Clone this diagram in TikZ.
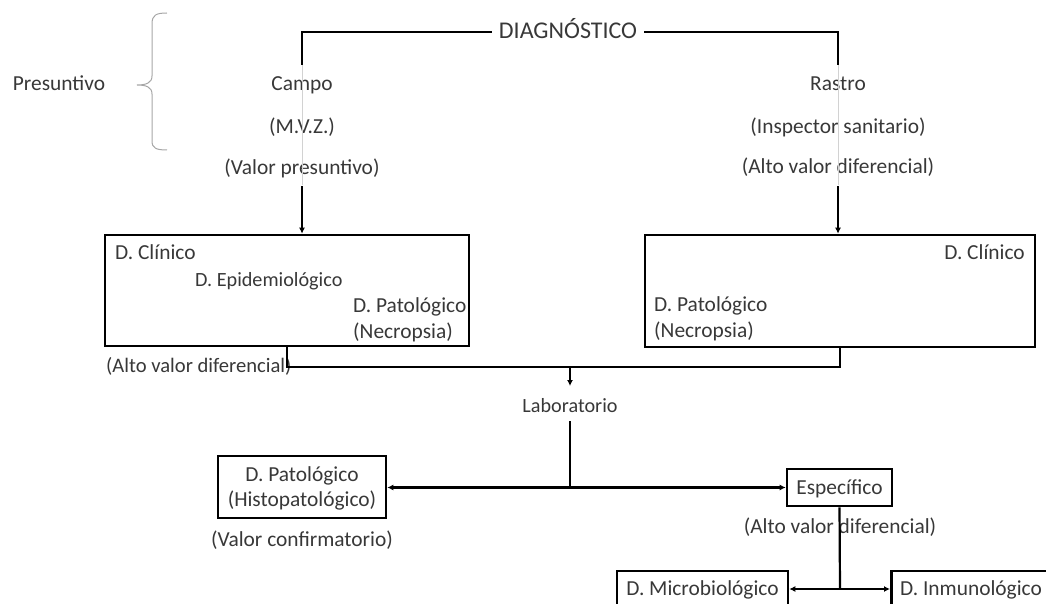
\documentclass[tikz,border=0pt]{standalone}
\usepackage{fontspec}
\setmainfont{Carlito}
\usetikzlibrary{arrows.meta,calc}
\definecolor{txt}{HTML}{383838}
\begin{document}
\begin{tikzpicture}[x=1pt,y=-1pt,
  every node/.style={text=txt,font=\fontsize{21.4}{25}\selectfont,inner sep=0pt,text height=15pt,text depth=3pt},
  small/.style={font=\fontsize{20.2}{24}\selectfont},
  conn/.style={line width=2.2pt,black},
  arr/.style={conn,-{Latex[length=6pt,width=6pt]}},
  boxn/.style={draw=black,line width=2.6pt,inner sep=0pt,text height=,text depth=}]
\useasboundingbox (0,0) rectangle (1046,604);
\clip (0,0) rectangle (1046,604);
% top
\node[font=\fontsize{24}{28}\selectfont,text height=17pt,text depth=3pt] (diag) at (568,32) {DIAGNÓSTICO};
\node (pres) at (59,85) {Presuntivo};
\node (campo) at (302,85) {Campo};
\node (mvz) at (302,128) {(M.V.Z.)};
\node (valp) at (302,169) {(Valor presuntivo)};
\node (rastro) at (838,85) {Rastro};
\node (insp) at (838,128) {(Inspector sanitario)};
\node (altod1) at (838,168) {(Alto valor diferencial)};
\coordinate (lt) at (302,65);
\coordinate (rt) at (838,65);
\draw[conn] ([xshift=-7pt]diag.west) -| (lt);
\draw[conn] ([xshift=7pt]diag.east) -| (rt);
\draw[gray!35,line width=0.6pt] (lt) -- (302,185);
\draw[gray!35,line width=0.6pt] (rt) -- (838,185);
% brace
\draw[gray!70,line width=1pt] (167,13) .. controls (156,13) and (152,15) .. (152,24)
  -- (152,76) .. controls (152,83) and (146,85) .. (137,85)
  .. controls (146,85) and (152,87) .. (152,94)
  -- (152,141) .. controls (152,148) and (156,150) .. (167,150);
% boxes
\node[boxn,minimum width=364pt,minimum height=111pt] (lbox) at (287,290.5) {};
\node[anchor=west] (lc) at (115,253) {D. Clínico};
\node[anchor=west,small] (le) at (195,280) {D. Epidemiológico};
\node[anchor=west] (lp) at (353,306) {D. Patológico};
\node[anchor=west] (ln) at (353,332) {(Necropsia)};
\node[boxn,minimum width=390pt,minimum height=112pt] (rbox) at (840,291) {};
\node[anchor=east] (rc) at (1025,253) {D. Clínico};
\node[anchor=west] (rp) at (654,305) {D. Patológico};
\node[anchor=west] (rn) at (654,331) {(Necropsia)};
\draw[arr] (valp.south |- 0,186) -- (valp.south |- lbox.north);
\draw[arr] (altod1.south |- 0,186) -- (altod1.south |- rbox.north);
\node[anchor=west,font=\fontsize{20.6}{24}\selectfont] (altod2) at (106,366) {(Alto valor diferencial)};
\coordinate (j1) at (570,367);
\draw[conn] (lbox.south) -- (lbox.south |- j1) -| (rbox.south);
\node[small] (lab) at (570,406) {Laboratorio};
\draw[arr] (j1) -- (570,386);
% lab branches
\node[boxn,minimum width=168pt,minimum height=62pt] (hist) at (302,487) {};
\node (histA) at (302,475) {D. Patológico};
\node (histB) at (302,500) {(Histopatológico)};
\node (valc) at (302,540) {(Valor confirmatorio)};
\node[boxn,minimum width=105pt,minimum height=37pt] (esp) at (839.5,487.5) {};
\node (espt) at (839.5,488) {Específico};
\node (altod3) at (840,527) {(Alto valor diferencial)};
\coordinate (j2) at (570,487.5);
\draw[conn] (570,421) -- (j2);
\draw[arr] (j2) -- (hist.east |- j2);
\draw[arr] (j2) -- (esp.west);
\node[boxn,minimum width=171pt,minimum height=40pt] (micro) at (702.5,591) {};
\node (microt) at (702.5,589) {D. Microbiológico};
\node[boxn,minimum width=175pt,minimum height=40pt,anchor=west] (inmu) at (890,591) {};
\node[anchor=west] (inmut) at (900,589) {D. Inmunológico};
\coordinate (j3) at (840,589);
\draw[conn] (esp.south) -- (j3);
\draw[arr] (j3) -- (micro.east |- j3);
\draw[arr] (j3) -- (inmu.west |- j3);
\end{tikzpicture}
\end{document}
